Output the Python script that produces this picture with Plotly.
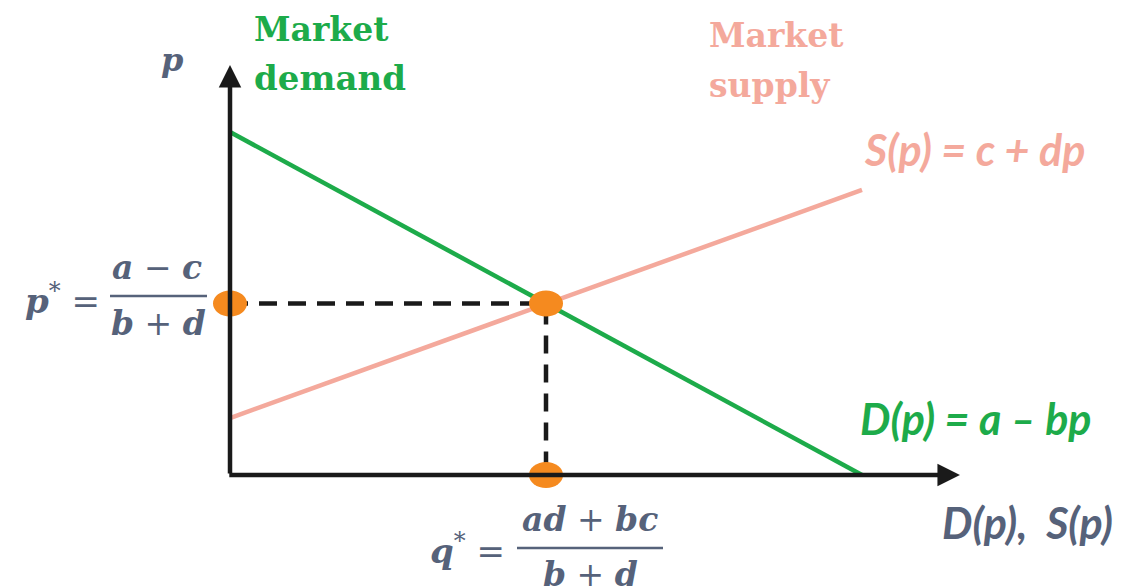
import plotly.graph_objects as go

W, H = 1133, 588

# ---- data (abstract units) ----
demand_q = [0, 10]
demand_p = [10, 0]
supply_q = [0, 10]
supply_p = [1.66, 8.31]
eq_q = 5.0
eq_p = 5.0
dot_q = [0, eq_q, eq_q]
dot_p = [eq_p, eq_p, 0]
axis_x_max = 11.55
axis_y_max = 11.95

# ---- styles ----
GREEN = "#1DAB4A"
SALMON = "#F4A99C"
GREY = "#56627A"
ORANGE = "#F58A1F"
MATH = "DejaVu Serif"
SANS = "Lato"

x_range = [-230 / 63.2, 903 / 63.2]
y_range = [-113 / 34.3, 475 / 34.3]

fig = go.Figure()

fig.add_trace(go.Scatter(x=demand_q, y=demand_p, mode="lines",
                         line=dict(color=GREEN, width=4.5), hoverinfo="skip"))
fig.add_trace(go.Scatter(x=supply_q, y=supply_p, mode="lines",
                         line=dict(color=SALMON, width=4.5), hoverinfo="skip"))
# dashed guides
fig.add_trace(go.Scatter(x=[0, eq_q, eq_q], y=[eq_p, eq_p, 0], mode="lines",
                         line=dict(color="#1a1a1a", width=4.5, dash="18px,11px"),
                         hoverinfo="skip"))

# axes with arrows
fig.add_annotation(x=0, y=axis_y_max, ax=0, ay=0, xref="x", yref="y",
                   axref="x", ayref="y", text="", showarrow=True,
                   arrowhead=2, arrowsize=1.0, arrowwidth=4.5, arrowcolor="#1a1a1a",
                   standoff=0, startstandoff=0)
fig.add_annotation(x=axis_x_max, y=0, ax=-0.035, ay=0, xref="x", yref="y",
                   axref="x", ayref="y", text="", showarrow=True,
                   arrowhead=2, arrowsize=1.0, arrowwidth=4.5, arrowcolor="#1a1a1a",
                   standoff=0, startstandoff=0)

# orange dots (ellipses)
for qx, py in zip(dot_q, dot_p):
    fig.add_shape(type="circle", xref="x", yref="y", xsizemode="pixel",
                  ysizemode="pixel", xanchor=qx, yanchor=py,
                  x0=-17, x1=17, y0=-13, y1=13,
                  fillcolor=ORANGE, line=dict(width=0))


def P(px, py):
    return px / W, 1 - py / H


def label(px, py, text, color, size, family, xanchor="left"):
    x, y = P(px, py)
    fig.add_annotation(x=x, y=y, xref="paper", yref="paper", text=text,
                       showarrow=False, xanchor=xanchor, yanchor="middle",
                       font=dict(color=color, size=size, family=family))


def bar(x0, x1, py, color=GREY):
    a, b = P(x0, py)
    c, _ = P(x1, py)
    fig.add_shape(type="line", xref="paper", yref="paper", x0=a, x1=c, y0=b, y1=b,
                  line=dict(color=color, width=2.5))


def bi(s):
    return "<b><i>" + s + "</i></b>"


# top labels
label(252, 30, "<b>Market</b>", GREEN, 33, MATH)
label(252, 78, "<b>demand</b>", GREEN, 34, MATH)
label(707, 35, "<b>Market</b>", SALMON, 33, MATH)
label(707, 85, "<b>supply</b>", SALMON, 33, MATH)
label(172, 60, bi("p"), GREY, 32, MATH, "center")

# curve labels
label(862, 150, bi("S(p) = c + dp"), SALMON, 43, SANS)
label(858, 418, bi("D(p) = a – bp"), GREEN, 43, SANS)
label(940, 522, bi("D(p),  S(p)"), GREY, 43, SANS)

# p* fraction
label(102, 299, bi("p") + "<sup>*</sup> =", GREY, 34, MATH, "right")
label(157, 267, bi("a") + " − " + bi("c"), GREY, 33, MATH, "center")
label(158, 324, bi("b") + " + " + bi("d"), GREY, 33, MATH, "center")
bar(110, 207, 296)

# q* fraction
label(507, 549, bi("q") + "<sup>*</sup> =", GREY, 34, MATH, "right")
label(590, 519, bi("ad") + " + " + bi("bc"), GREY, 33, MATH, "center")
label(590, 574, bi("b") + " + " + bi("d"), GREY, 33, MATH, "center")
bar(517, 663, 548)

fig.update_layout(
    width=W, height=H, margin=dict(l=0, r=0, t=0, b=0),
    paper_bgcolor="white", plot_bgcolor="white", showlegend=False,
    xaxis=dict(range=x_range, visible=False, fixedrange=True),
    yaxis=dict(range=y_range, visible=False, fixedrange=True),
)

fig.write_html("out.html", config={"displayModeBar": False},
               post_script="document.body.style.margin='0';")
